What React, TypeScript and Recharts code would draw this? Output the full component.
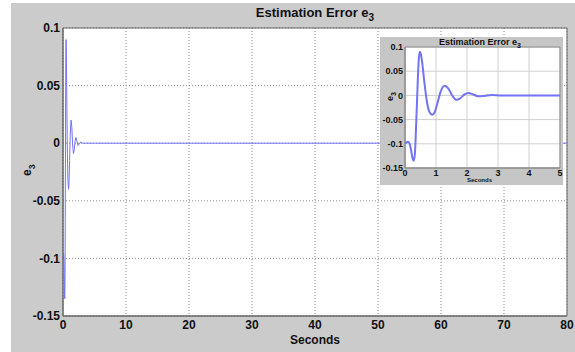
import React from "react";
import {
  LineChart,
  Line,
  XAxis,
  YAxis,
  CartesianGrid,
  ReferenceArea,
} from "recharts";

// time samples (s) and estimation error e3
const times = [
  0, 0.05, 0.1, 0.15, 0.2, 0.25, 0.28, 0.32, 0.36, 0.4, 0.44, 0.47, 0.5, 0.55,
  0.62, 0.7, 0.78, 0.88, 0.95, 1.05, 1.15, 1.28, 1.4, 1.52, 1.65, 1.78, 1.92,
  2.05, 2.2, 2.38, 2.55, 2.8, 3.1, 3.5, 5,
];
const errors = [
  -0.1, -0.097, -0.096, -0.1, -0.115, -0.132, -0.135, -0.12, -0.06, 0.01, 0.07,
  0.09, 0.088, 0.07, 0.03, -0.01, -0.033, -0.04, -0.036, -0.015, 0.008, 0.02,
  0.014, 0.0, -0.009, -0.006, 0.002, 0.005, 0.002, -0.002, -0.001, 0.001, 0.0,
  0.0, 0.0,
];
const simEnd = 80;

const mainXTicks = [0, 10, 20, 30, 40, 50, 60, 70, 80];
const mainYTicks = [-0.15, -0.1, -0.05, 0, 0.05, 0.1];
const insetXTicks = [0, 1, 2, 3, 4, 5];
const insetYTicks = [-0.15, -0.1, -0.05, 0, 0.05, 0.1];

const insetData = times.map((t, i) => ({ t, e: errors[i] }));
const mainData = [...insetData, { t: simEnd, e: 0 }];

const FONT = "'Liberation Sans', Arial, sans-serif";
const LINE = "#7373f5";

const fmt = (v: number) => String(v);

export default function App() {
  return (
    <div
      style={{
        position: "absolute",
        left: 0,
        top: 0,
        width: 575,
        height: 352,
        background: "#fff",
        fontFamily: FONT,
      }}
    >
      <div
        style={{
          position: "absolute",
          left: 11,
          top: 3,
          width: 564,
          height: 349,
          background: "#cbcbcb",
        }}
      />
      <div style={{ position: "absolute", left: 0, top: 0 }}>
        <LineChart
          width={575}
          height={352}
          data={mainData}
          margin={{ top: 28, right: 8, bottom: 0, left: 0 }}
        >
          <CartesianGrid
            fill="#fff"
            stroke="#8e8e8e"
            strokeDasharray="1 2"
          />
          <XAxis
            dataKey="t"
            type="number"
            domain={[0, 80]}
            ticks={mainXTicks}
            height={36}
            tickSize={0}
            tickMargin={4}
            axisLine={{ stroke: "#666" }}
            tick={{ fill: "#111", fontSize: 12, fontWeight: 700, fontFamily: FONT }}
            label={(p: any) => (
              <text
                x={p.viewBox.x + p.viewBox.width / 2}
                y={p.viewBox.y + 28}
                textAnchor="middle"
                fontSize={12}
                fontWeight={700}
                fontFamily={FONT}
                fill="#111"
              >
                Seconds
              </text>
            )}
          />
          <YAxis
            type="number"
            domain={[-0.15, 0.1]}
            ticks={mainYTicks}
            width={63}
            tickSize={0}
            tickMargin={3}
            tickFormatter={fmt}
            axisLine={{ stroke: "#666" }}
            tick={{ fill: "#111", fontSize: 12, fontWeight: 700, fontFamily: FONT }}
            label={() => (
              <text
                transform="translate(31,176) rotate(-90)"
                fontSize={12}
                fontWeight={700}
                fontFamily={FONT}
                fill="#111"
              >
                e<tspan dy={4} fontSize={9}>3</tspan>
              </text>
            )}
          />
          <ReferenceArea
            x1={0}
            x2={80}
            y1={-0.15}
            y2={0.1}
            fill="none"
            stroke="#666"
            strokeWidth={1}
          />
          <Line
            type="linear"
            dataKey="e"
            stroke={LINE}
            strokeWidth={1}
            dot={false}
            isAnimationActive={false}
          />
        </LineChart>
      </div>
      <div
        style={{
          position: "absolute",
          left: 240,
          top: 5,
          width: 150,
          textAlign: "center",
          fontSize: 13,
          fontWeight: 700,
          color: "#111",
          whiteSpace: "nowrap",
          lineHeight: "16px",
        }}
      >
        Estimation Error e<sub style={{ fontSize: 10 }}>3</sub>
      </div>

      <div
        style={{
          position: "absolute",
          left: 380,
          top: 37,
          width: 183,
          height: 148,
          background: "#c6c6c6",
        }}
      >
        <LineChart
          width={183}
          height={148}
          data={insetData}
          margin={{ top: 10, right: 3, bottom: 0, left: 0 }}
        >
          <CartesianGrid fill="#fff" stroke="#d0d0d0" />
          <XAxis
            dataKey="t"
            type="number"
            domain={[0, 5]}
            ticks={insetXTicks}
            height={17}
            tickSize={0}
            tickMargin={2}
            axisLine={{ stroke: "#888" }}
            tick={{ fill: "#111", fontSize: 9, fontWeight: 700, fontFamily: FONT }}
            label={(p: any) => (
              <text
                x={p.viewBox.x + p.viewBox.width / 2 - 3}
                y={p.viewBox.y + 14}
                textAnchor="middle"
                fontSize={6}
                fontWeight={700}
                fontFamily={FONT}
                fill="#111"
              >
                Seconds
              </text>
            )}
          />
          <YAxis
            type="number"
            domain={[-0.15, 0.1]}
            ticks={insetYTicks}
            width={25}
            tickSize={0}
            tickMargin={2}
            tickFormatter={fmt}
            axisLine={{ stroke: "#888" }}
            tick={{ fill: "#111", fontSize: 9, fontWeight: 700, fontFamily: FONT }}
            label={() => (
              <text
                transform="translate(13,64) rotate(-90)"
                fontSize={9}
                fontWeight={700}
                fontFamily={FONT}
                fill="#111"
              >
                e<tspan dy={3} fontSize={7}>3</tspan>
              </text>
            )}
          />
          <ReferenceArea
            x1={0}
            x2={5}
            y1={-0.15}
            y2={0.1}
            fill="none"
            stroke="#888"
          />
          <Line
            type="monotone"
            dataKey="e"
            stroke={LINE}
            strokeWidth={2}
            dot={false}
            isAnimationActive={false}
          />
        </LineChart>
        <div
          style={{
            position: "absolute",
            left: 0,
            top: 0,
            width: 200,
            textAlign: "center",
            fontSize: 9,
            fontWeight: 700,
            color: "#111",
            whiteSpace: "nowrap",
            lineHeight: "11px",
          }}
        >
          Estimation Error e<sub style={{ fontSize: 7 }}>3</sub>
        </div>
      </div>
    </div>
  );
}
